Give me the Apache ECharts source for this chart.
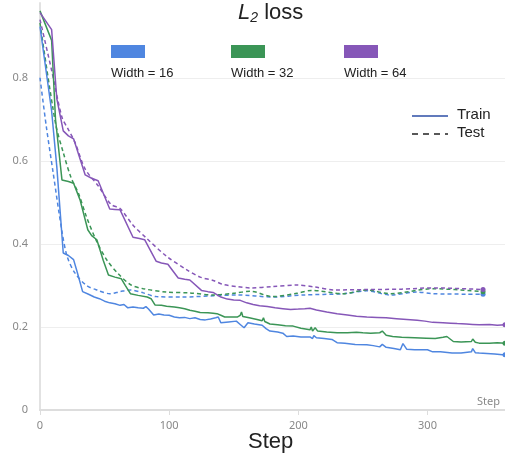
<!DOCTYPE html>
<html>
<head>
<meta charset="utf-8">
<script src="https://cdn.jsdelivr.net/npm/echarts@6/dist/echarts.min.js"></script>
<style>
  html, body { margin: 0; padding: 0; background: #fff; }
  #main { width: 505px; height: 456px; }
</style>
</head>
<body>
<div id="main"></div>
<script>
// training loss, [step, value]
var train16 = [[0,0.923],[9,0.72],[13,0.586],[18,0.378],[22,0.372],[26,0.362],[29,0.33],[33,0.285],[38,0.278],[42,0.272],[46,0.268],[50,0.262],[54,0.258],[58,0.256],[62,0.252],[65,0.254],[68,0.246],[72,0.248],[76,0.246],[80,0.245],[82,0.249],[84,0.243],[88,0.229],[92,0.231],[96,0.229],[100,0.228],[104,0.224],[108,0.222],[112,0.223],[116,0.22],[120,0.222],[124,0.218],[128,0.217],[132,0.219],[136,0.222],[138,0.224],[140,0.21],[146,0.212],[152,0.214],[155,0.206],[158,0.198],[161,0.21],[166,0.207],[172,0.204],[175,0.196],[178,0.19],[184,0.188],[188,0.185],[191,0.177],[196,0.178],[202,0.176],[209,0.176],[211,0.172],[212,0.179],[214,0.174],[220,0.172],[226,0.17],[230,0.162],[236,0.161],[244,0.158],[253,0.157],[258,0.155],[263,0.152],[265,0.158],[268,0.151],[274,0.148],[279,0.145],[281,0.16],[284,0.146],[290,0.145],[300,0.145],[304,0.14],[310,0.14],[319,0.137],[326,0.137],[334,0.14],[335,0.148],[337,0.138],[340,0.137],[346,0.136],[352,0.135],[358,0.133],[360,0.133]];
var train32 = [[0,0.961],[9,0.89],[12,0.7],[17,0.554],[22,0.55],[26,0.546],[31,0.506],[37,0.434],[40,0.42],[44,0.41],[49,0.36],[53,0.325],[58,0.32],[63,0.316],[66,0.3],[70,0.28],[76,0.276],[83,0.272],[86,0.268],[89,0.253],[94,0.252],[98,0.25],[104,0.248],[108,0.246],[112,0.244],[116,0.24],[120,0.238],[124,0.235],[130,0.234],[134,0.233],[137,0.232],[140,0.228],[143,0.224],[148,0.224],[153,0.224],[155,0.228],[156,0.236],[157,0.225],[162,0.222],[168,0.218],[172,0.215],[173,0.222],[174,0.213],[178,0.207],[184,0.205],[190,0.203],[196,0.202],[202,0.197],[209,0.193],[210,0.2],[211,0.19],[213,0.198],[215,0.19],[222,0.188],[230,0.186],[238,0.186],[245,0.187],[250,0.186],[256,0.185],[263,0.186],[265,0.19],[268,0.18],[273,0.177],[280,0.175],[290,0.174],[299,0.173],[306,0.172],[312,0.175],[315,0.177],[320,0.165],[326,0.164],[334,0.165],[335,0.171],[337,0.163],[340,0.161],[348,0.161],[354,0.162],[360,0.161]];
var train64 = [[0,0.957],[9,0.916],[13,0.75],[18,0.672],[22,0.66],[26,0.653],[35,0.566],[40,0.558],[45,0.552],[54,0.484],[58,0.483],[62,0.482],[72,0.416],[77,0.413],[81,0.41],[90,0.358],[94,0.354],[99,0.351],[107,0.318],[112,0.315],[116,0.313],[125,0.288],[130,0.285],[134,0.283],[140,0.272],[145,0.267],[150,0.265],[155,0.264],[160,0.258],[165,0.254],[170,0.251],[176,0.249],[182,0.246],[188,0.244],[194,0.242],[200,0.243],[205,0.244],[209,0.245],[214,0.241],[222,0.236],[230,0.232],[238,0.229],[245,0.226],[253,0.224],[261,0.223],[268,0.222],[276,0.22],[284,0.218],[292,0.216],[298,0.214],[304,0.211],[312,0.21],[318,0.209],[323,0.208],[330,0.207],[335,0.206],[340,0.205],[348,0.206],[354,0.204],[360,0.205]];

// test loss, [step, value]
var test16 = [[0,0.8],[5,0.68],[10,0.575],[17,0.43],[21,0.37],[27,0.33],[36,0.3],[45,0.288],[54,0.28],[62,0.285],[70,0.289],[80,0.282],[90,0.273],[110,0.272],[134,0.275],[153,0.277],[180,0.272],[204,0.277],[235,0.28],[253,0.287],[271,0.277],[292,0.284],[304,0.28],[330,0.279],[343,0.279]];
var test32 = [[0,0.932],[12,0.69],[18,0.62],[24,0.56],[30,0.52],[36,0.465],[44,0.405],[52,0.36],[60,0.33],[70,0.302],[80,0.292],[98,0.284],[116,0.282],[134,0.277],[150,0.281],[163,0.286],[180,0.273],[199,0.281],[210,0.288],[235,0.28],[253,0.289],[271,0.28],[304,0.292],[343,0.285]];
var test64 = [[0,0.94],[9,0.818],[17,0.705],[22,0.675],[27,0.645],[35,0.58],[45,0.54],[55,0.495],[62,0.485],[72,0.445],[82,0.415],[98,0.37],[114,0.337],[124,0.32],[134,0.312],[142,0.302],[153,0.297],[163,0.294],[180,0.297],[199,0.301],[213,0.296],[228,0.289],[253,0.29],[280,0.291],[304,0.294],[343,0.29]];

var widthNames = ['Width = 16', 'Width = 32', 'Width = 64'];
var colors = ['#4f86e0', '#3b9556', '#8657b8'];

function withEndDot(arr) {
	return arr.map(function (p, i) {
		if (i === arr.length - 1) {
			return { value: p, symbol: 'circle', symbolSize: 5 };
		}
		return { value: p };
	});
}

var trains = [train16, train32, train64];
var tests = [test16, test32, test64];
var series = [];
for (var i = 0; i < 3; i++) {
	series.push({
		name: widthNames[i] + ' train',
		type: 'line',
		data: withEndDot(trains[i]),
		symbol: 'none',
		showAllSymbol: true,
		lineStyle: { color: colors[i], width: 1.5 },
		itemStyle: { color: colors[i] },
		z: 3
	});
	series.push({
		name: widthNames[i] + ' test',
		type: 'line',
		smooth: 0.3,
		data: withEndDot(tests[i]),
		symbol: 'none',
		showAllSymbol: true,
		lineStyle: { color: colors[i], width: 1.5, type: [4, 3] },
		itemStyle: { color: colors[i] },
		z: 2
	});
}

// legend drawn by hand
var graphics = [
	{ type: 'text', left: 238, top: 2, style: {
		text: '{i|L}{s|2}{n| loss}',
		rich: {
			i: { fontFamily: 'Liberation Sans', fontStyle: 'italic', fontSize: 22, fill: '#222' },
			s: { fontFamily: 'Liberation Sans', fontStyle: 'italic', fontSize: 14, fill: '#222', padding: [10, 0, 0, 0] },
			n: { fontFamily: 'Liberation Sans', fontSize: 22, fill: '#222' }
		}
	}},
	{ type: 'text', left: 248, top: 431, style: { text: 'Step', font: '22px "Liberation Sans"', fill: '#222' } },
	{ type: 'text', left: 477, top: 396, style: { text: 'Step', font: '11px "Noto Sans"', fill: '#888' } },
	{ type: 'line', shape: { x1: 412, y1: 116, x2: 448, y2: 116 }, style: { stroke: '#2d4ea6', lineWidth: 1.5 } },
	{ type: 'line', shape: { x1: 412, y1: 134, x2: 448, y2: 134 }, style: { stroke: '#222', lineWidth: 1.5, lineDash: [6, 5] } },
	{ type: 'text', left: 457, top: 107, style: { text: 'Train', font: '15px "Liberation Sans"', fill: '#222' } },
	{ type: 'text', left: 457, top: 125, style: { text: 'Test', font: '15px "Liberation Sans"', fill: '#222' } }
];
var boxX = [111, 231, 344];
for (var k = 0; k < 3; k++) {
	graphics.push({ type: 'rect', shape: { x: boxX[k], y: 45, width: 34, height: 13 }, style: { fill: colors[k] } });
	graphics.push({ type: 'text', left: boxX[k], top: 67, style: { text: widthNames[k], font: '13px "Liberation Sans"', fill: '#222' } });
}

var myChart = echarts.init(document.getElementById('main'));
var option = {
	animation: false,
	grid: { left: 40, right: 0, top: 3, bottom: 46, containLabel: false },
	xAxis: {
		type: 'value',
		min: 0,
		max: 360,
		interval: 100,
		axisLine: { lineStyle: { color: '#dddddd', width: 2 } },
		axisTick: { show: true, length: 5, lineStyle: { color: '#dddddd' } },
		axisLabel: { color: '#888', fontSize: 11, fontFamily: 'Noto Sans', margin: 10, showMaxLabel: false },
		splitLine: { show: false }
	},
	yAxis: {
		type: 'value',
		min: 0,
		max: 0.98,
		interval: 0.2,
		axisLine: { show: true, lineStyle: { color: '#e2e2e2', width: 2 } },
		axisTick: { show: false },
		axisLabel: { color: '#888', fontSize: 11, fontFamily: 'Noto Sans', margin: 12, showMaxLabel: false },
		splitLine: { lineStyle: { color: ['#eeeeee', '#eeeeee', '#eeeeee', '#eeeeee', '#eeeeee', 'rgba(0,0,0,0)'] } }
	},
	graphic: graphics,
	series: series
};
myChart.setOption(option);
</script>
</body>
</html>
